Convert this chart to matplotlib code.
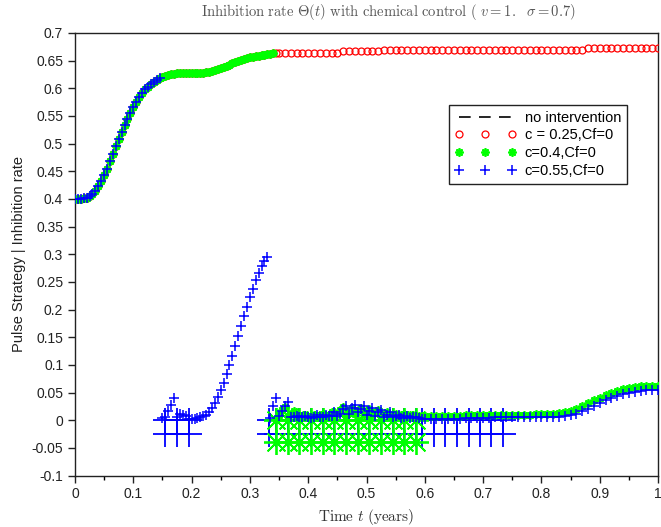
import numpy as np
import matplotlib
matplotlib.use("Agg")
import matplotlib.pyplot as plt
from matplotlib.ticker import FixedLocator, FuncFormatter

plt.rcParams['font.family'] = ['Liberation Sans', 'DejaVu Sans']
plt.rcParams['mathtext.fontset'] = 'cm'

# ---------------- data ----------------
# shared inhibition-rate curve Theta(t)
t_upper = [round(0.005 * i, 3) for i in range(71)] + [round(0.36 + 0.01 * i, 2) for i in range(65)]
theta_upper = [
    0.400, 0.400, 0.400, 0.401, 0.402, 0.405, 0.409, 0.415, 0.423, 0.432,
    0.443, 0.455, 0.468, 0.482, 0.495, 0.508, 0.521, 0.533, 0.545, 0.556,
    0.566, 0.575, 0.584, 0.591, 0.598, 0.603, 0.608, 0.612, 0.615, 0.618,
    0.620, 0.622, 0.624, 0.625, 0.626, 0.627, 0.627, 0.628, 0.628, 0.628,
    0.628, 0.628, 0.628, 0.628, 0.628, 0.629, 0.630, 0.631, 0.633, 0.635,
    0.637, 0.639, 0.641, 0.643, 0.645, 0.647, 0.649, 0.651, 0.653, 0.654,
    0.656, 0.657, 0.658, 0.659, 0.660, 0.661, 0.662, 0.662, 0.663, 0.663,
    0.663,
    0.664, 0.664, 0.664, 0.664, 0.664, 0.664, 0.664, 0.664, 0.664, 0.664,
    0.667, 0.667, 0.667, 0.667, 0.667, 0.667, 0.667, 0.670, 0.670, 0.670,
    0.670, 0.670, 0.670, 0.670, 0.670, 0.670, 0.670, 0.670, 0.670, 0.670,
    0.670, 0.670, 0.670, 0.670, 0.670, 0.670, 0.670, 0.670, 0.670, 0.670,
    0.670, 0.670, 0.670, 0.670, 0.670, 0.670, 0.670, 0.670, 0.670, 0.670,
    0.670, 0.670, 0.672, 0.672, 0.672, 0.672, 0.672, 0.672, 0.672, 0.672,
    0.672, 0.672, 0.672, 0.672, 0.672,
]
switch_green = 0.34   # end of inhibition phase, c=0.4
switch_blue = 0.145   # end of inhibition phase, c=0.55

# pulse-strategy phase, c=0.55 (blue)
t_blue_low = ([round(0.15 + 0.005 * i, 3) for i in range(37)]
              + [round(0.335 + 0.005 * i, 3) for i in range(54)]
              + [round(0.61 + 0.01 * i, 2) for i in range(40)])
v_blue_low = [
    0.004, 0.006, 0.016, 0.027, 0.040, 0.005, 0.012, 0.010, 0.007, 0.003,
    0.003, 0.003, 0.004, 0.005, 0.007, 0.010, 0.015, 0.022, 0.031, 0.042,
    0.055, 0.068, 0.083, 0.099, 0.116, 0.134, 0.152, 0.170, 0.188, 0.205,
    0.222, 0.238, 0.253, 0.266, 0.278, 0.288, 0.295,
    0.004, 0.025, 0.040, 0.008, 0.016, 0.026, 0.032, 0.006, 0.006, 0.008,
    0.005, 0.006, 0.008, 0.005, 0.004, 0.006, 0.009, 0.005, 0.006, 0.010,
    0.007, 0.008, 0.014, 0.008, 0.012, 0.020, 0.026, 0.012, 0.022, 0.028,
    0.014, 0.020, 0.025, 0.010, 0.016, 0.022, 0.008, 0.014, 0.018, 0.006,
    0.010, 0.014, 0.005, 0.008, 0.010, 0.004, 0.006, 0.008, 0.004, 0.005,
    0.006, 0.004, 0.003, 0.002,
    0.002, 0.002, 0.003, 0.003, 0.003, 0.003, 0.004, 0.004, 0.004, 0.004,
    0.004, 0.005, 0.005, 0.005, 0.005, 0.005, 0.005, 0.005, 0.005, 0.005,
    0.005, 0.006, 0.006, 0.007, 0.009, 0.012, 0.016, 0.021, 0.026, 0.031,
    0.036, 0.040, 0.044, 0.047, 0.049, 0.051, 0.053, 0.054, 0.055, 0.055,
]

# pulse-strategy phase, c=0.4 (green)
t_green_low = ([round(0.345 + 0.005 * i, 3) for i in range(52)]
               + [round(0.61 + 0.01 * i, 2) for i in range(40)])
v_green_low = [
    0.003, 0.010, 0.018, 0.024, 0.008, 0.012, 0.016, 0.010, 0.006, 0.008,
    0.010, 0.006, 0.008, 0.010, 0.006, 0.008, 0.012, 0.007, 0.010, 0.014,
    0.008, 0.012, 0.018, 0.024, 0.010, 0.016, 0.022, 0.012, 0.018, 0.022,
    0.010, 0.015, 0.020, 0.010, 0.014, 0.018, 0.009, 0.012, 0.015, 0.008,
    0.010, 0.012, 0.008, 0.010, 0.011, 0.008, 0.009, 0.010, 0.007, 0.008,
    0.008, 0.008,
    0.008, 0.008, 0.008, 0.008, 0.008, 0.008, 0.009, 0.009, 0.009, 0.009,
    0.010, 0.010, 0.010, 0.010, 0.010, 0.010, 0.010, 0.010, 0.011, 0.011,
    0.011, 0.012, 0.013, 0.015, 0.017, 0.021, 0.026, 0.031, 0.036, 0.041,
    0.046, 0.050, 0.053, 0.056, 0.058, 0.060, 0.061, 0.062, 0.062, 0.062,
]

# pulse (spraying) times and their indicator levels
pulse_t_green = [0.345, 0.365, 0.385, 0.405, 0.425, 0.445, 0.465, 0.485, 0.505,
                 0.525, 0.545, 0.565, 0.585]
pulse_levels_green = [0.0, -0.04]
pulse_t_blue = ([0.155, 0.175, 0.195, 0.333] + pulse_t_green
                + [0.596, 0.615, 0.635, 0.655, 0.675, 0.695, 0.714, 0.734])
pulse_levels_blue = [0.0, -0.025]

labels = ['no intervention', 'c = 0.25,Cf=0', 'c=0.4,Cf=0', 'c=0.55,Cf=0']

RED = '#ff0000'
GREEN = '#00ff00'
BLUE = '#0000ff'
AST = (8, 2, 0)

# ---------------- figure ----------------
W, H = 661, 527
fig = plt.figure(figsize=(W / 100, H / 100), dpi=100)
ax = fig.add_axes([75 / W, 1 - 475.5 / H, 583 / W, 442.5 / H])

tu = np.array(t_upper)
vu = np.array(theta_upper)

# legend-only handle for the no-intervention curve
ax.plot([], [], color='black', linestyle=(0, (7, 5)), lw=1.2, label=labels[0])

# pulse indicators
for lev in pulse_levels_blue:
    ax.plot(pulse_t_blue, [lev] * len(pulse_t_blue), linestyle='none', marker='+',
            ms=18, mew=1.3, color=BLUE, zorder=2)
for lev in pulse_levels_green:
    ax.plot(pulse_t_green, [lev] * len(pulse_t_green), linestyle='none', marker=AST,
            ms=18, mew=1.3, color=GREEN, zorder=2.5)

# inhibition phase curves
ax.plot(tu, vu, linestyle='none', marker='o', ms=5, mfc='none', mec=RED, mew=0.9,
        label=labels[1], zorder=3)
mg = tu <= switch_green
ax.plot(tu[mg], vu[mg], linestyle='none', marker=AST, ms=6, mew=1.3, color=GREEN,
        label=labels[2], zorder=4)
mb = tu <= switch_blue
ax.plot(tu[mb], vu[mb], linestyle='none', marker='+', ms=6.5, mew=1.1, color=BLUE,
        label=labels[3], zorder=5)

# pulse-strategy phase curves
ax.plot(t_green_low, v_green_low, linestyle='none', marker=AST, ms=6, mew=1.3,
        color=GREEN, zorder=4)
ax.plot(t_blue_low, v_blue_low, linestyle='none', marker='+', ms=6.5, mew=1.1,
        color=BLUE, zorder=5)

ax.set_xlim(0, 1)
ax.set_ylim(-0.1, 0.7)
fmt = FuncFormatter(lambda v, p: '%g' % round(v, 3))
ax.xaxis.set_major_locator(FixedLocator([round(0.1 * i, 1) for i in range(11)]))
ax.xaxis.set_minor_locator(FixedLocator([round(0.05 + 0.1 * i, 2) for i in range(10)]))
ax.yaxis.set_major_locator(FixedLocator([round(-0.1 + 0.05 * i, 2) for i in range(17)]))
ax.xaxis.set_major_formatter(fmt)
ax.yaxis.set_major_formatter(fmt)
ax.tick_params(which='major', direction='out', length=5, width=1, labelsize=10,
               colors='#222222', top=False, right=False)
ax.tick_params(which='minor', direction='out', length=3, width=1, top=False, right=False)
for s in ax.spines.values():
    s.set_linewidth(1.0)
    s.set_color('#222222')

ax.set_ylabel('Pulse Strategy | Inhibition rate', fontsize=10.5, color='#222222', labelpad=4)
ax.set_xlabel(r'$\mathrm{Time\ }t\mathrm{\ (years)}$', fontsize=11, color='#333333', labelpad=4)
fig.text(388 / W, 1 - 12 / H,
         r'$\mathrm{Inhibition\ rate\ }\Theta(t)\mathrm{\ with\ chemical\ control\ (\ }v\mathrm{=1.\ \ }\sigma = 0.7)$',
         ha='center', va='center', fontsize=10.5, color='#555555')

leg = ax.legend(loc='upper left', bbox_to_anchor=((449 - 75) / 583, 1 - (105 - 33) / 442.5),
                borderaxespad=0, numpoints=3, handlelength=4.2, handletextpad=0.6,
                labelspacing=0.25, borderpad=0.4, fontsize=10.5, fancybox=False,
                framealpha=1, edgecolor='#222222')
leg.get_frame().set_linewidth(1.0)

fig.savefig('out.png', dpi=100)
